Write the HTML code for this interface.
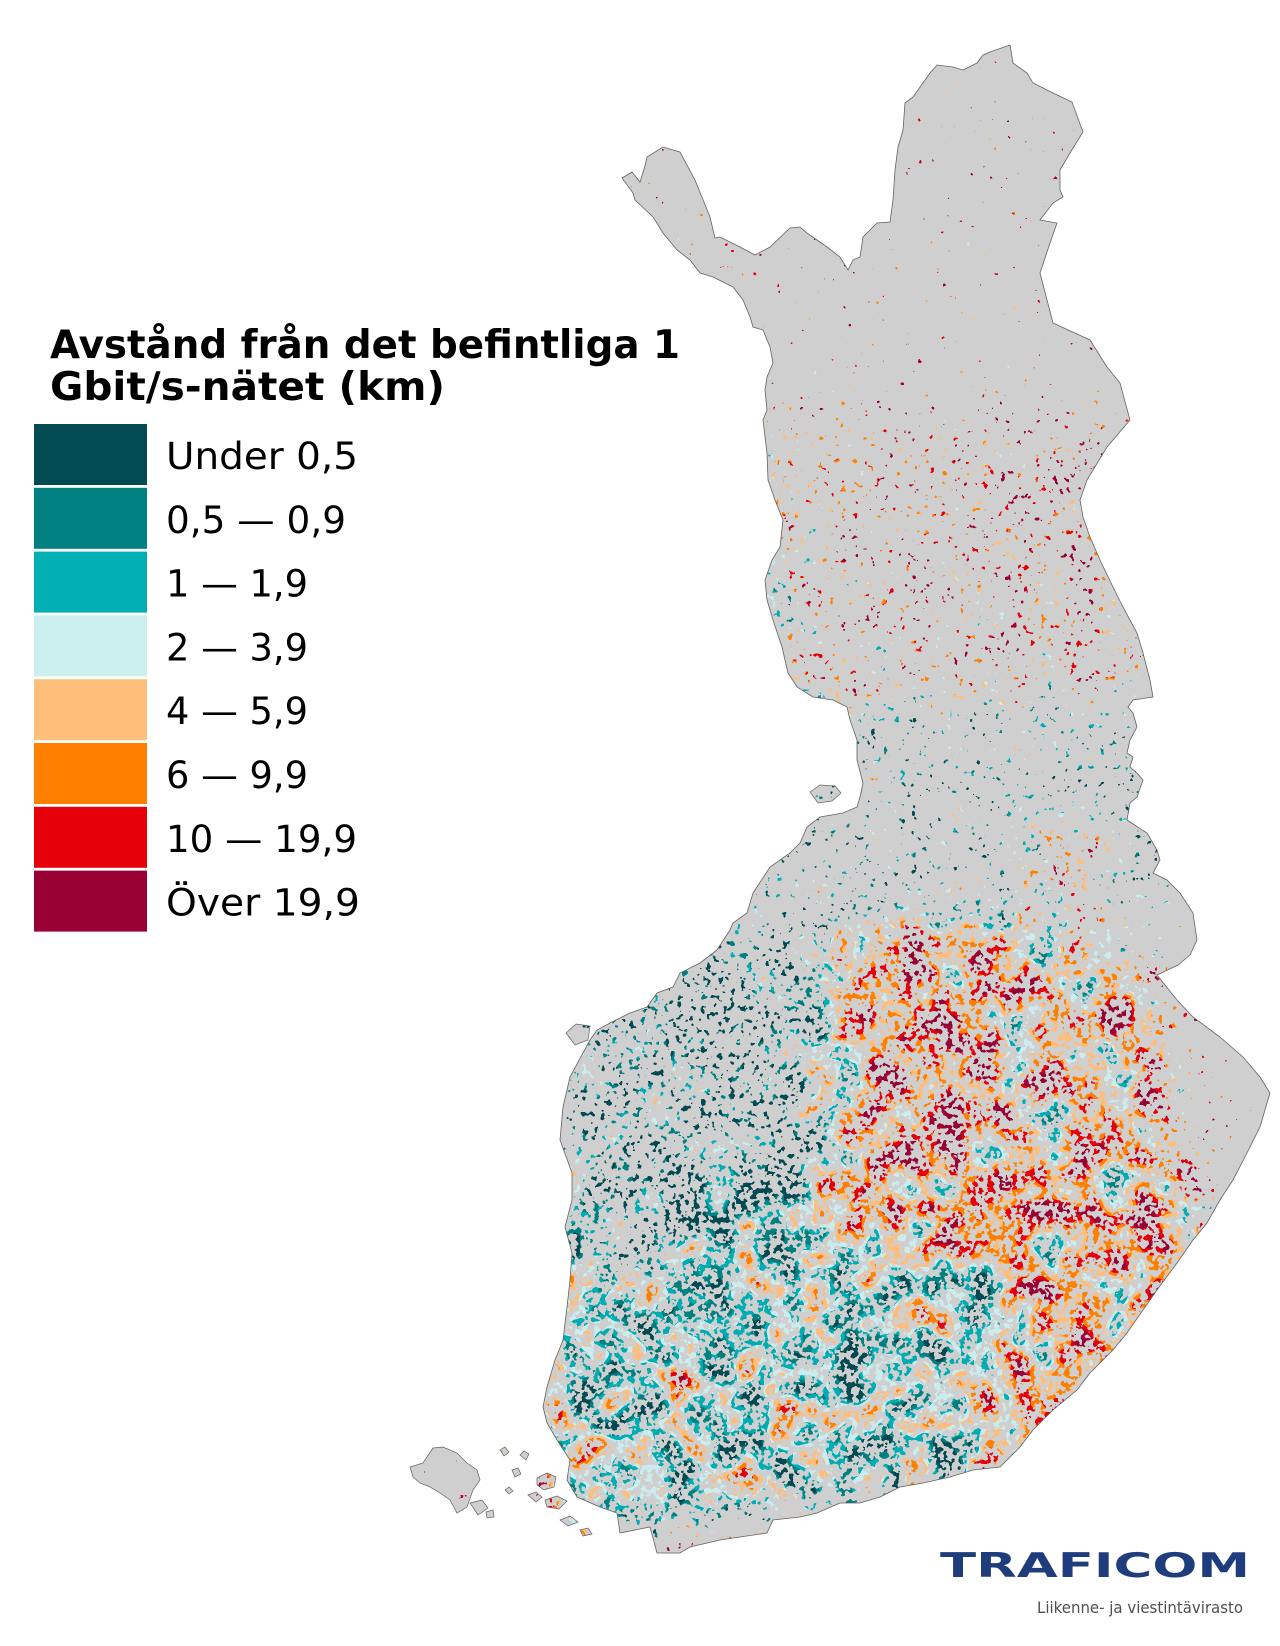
<!DOCTYPE html>
<html>
<head>
<meta charset="utf-8">
<style>
  html,body{margin:0;padding:0;background:#ffffff;}
  svg{display:block;}
  .t{font-family:"DejaVu Sans","Liberation Sans",sans-serif;}
</style>
</head>
<body>
<svg width="1280" height="1646" viewBox="0 0 1280 1646" xmlns="http://www.w3.org/2000/svg">
<defs>
  <path id="fin" d="M622,178 L632,172 L640,182 L645,166 L647,157 L663,147 L680,152 L695,180 L710,217 L715,238 L720,237 L740,247 L755,255 L770,247 L790,228 L800,227 L807,233 L827,247 L840,257 L848,270 L853,260 L860,257 L863,237 L877,223 L890,222 L893,200 L895,170 L898,147 L903,130 L905,103 L913,97 L930,73 L937,65 L953,67 L963,70 L977,63 L983,55 L990,52 L1010,45 L1013,63 L1027,73 L1033,83 L1053,93 L1072,102 L1083,132 L1070,153 L1060,170 L1060,190 L1063,197 L1053,203 L1040,220 L1057,223 L1050,243 L1040,273 L1053,323 L1090,340 L1107,367 L1120,383 L1130,420 L1107,447 L1087,480 L1080,500 L1083,517 L1090,537 L1100,560 L1113,587 L1123,607 L1137,633 L1143,653 L1150,680 L1153,697 L1133,700 L1128,707 L1133,713 L1137,727 L1130,740 L1127,753 L1133,757 L1130,767 L1137,773 L1143,780 L1137,797 L1130,803 L1127,820 L1147,833 L1157,850 L1160,860 L1153,873 L1167,880 L1180,893 L1193,913 L1197,940 L1190,955 L1178,965 L1157,975 L1177,1000 L1193,1017 L1220,1037 L1243,1057 L1260,1077 L1270,1093 L1260,1127 L1247,1153 L1233,1180 L1220,1200 L1207,1223 L1193,1240 L1177,1263 L1157,1290 L1143,1310 L1127,1333 L1113,1350 L1090,1373 L1077,1390 L1053,1410 L1033,1430 L1020,1447 L1000,1467 L973,1470 L950,1477 L923,1483 L900,1487 L880,1497 L860,1503 L840,1503 L817,1513 L800,1517 L773,1520 L767,1533 L740,1537 L720,1540 L690,1547 L680,1553 L657,1553 L650,1527 L620,1533 L617,1513 L600,1507 L577,1497 L567,1480 L570,1460 L557,1440 L547,1423 L543,1407 L547,1387 L555,1360 L563,1340 L567,1307 L570,1280 L572,1253 L565,1227 L572,1200 L572,1173 L560,1140 L563,1107 L570,1077 L590,1040 L597,1030 L610,1023 L630,1013 L647,1007 L657,993 L673,987 L680,973 L700,963 L717,950 L730,930 L733,923 L747,913 L753,893 L770,867 L790,853 L800,843 L807,827 L820,817 L843,813 L857,807 L860,797 L863,783 L857,760 L857,740 L850,720 L847,707 L833,700 L813,697 L797,687 L788,673 L782,647 L773,620 L767,600 L765,580 L772,560 L780,547 L783,520 L775,500 L768,480 L767,453 L763,420 L767,410 L765,390 L767,377 L773,363 L770,347 L763,330 L753,327 L750,317 L743,300 L733,287 L713,277 L700,273 L690,260 L677,250 L663,233 L653,217 L635,200 L633,193 Z"/>
  <path id="isl" d="M410,1467 L423,1463 L433,1448 L443,1447 L457,1453 L467,1463 L477,1470 L480,1480 L473,1490 L467,1507 L457,1513 L450,1500 L440,1493 L430,1487 L420,1483 L413,1477 Z
    M470,1503 L482,1500 L488,1508 L478,1515 Z
    M486,1512 L493,1510 L494,1517 L487,1518 Z
    M500,1450 l5,-3 l4,5 l-5,4 Z
    M512,1470 l6,-2 l3,6 l-6,3 Z
    M520,1455 l4,-4 l5,3 l-3,6 Z
    M537,1478 l10,-5 l9,4 l-2,10 l-10,3 l-7,-5 Z
    M528,1495 l8,-3 l6,5 l-6,5 Z
    M545,1500 l12,-4 l10,5 l-8,8 l-12,-2 Z
    M505,1490 l4,-3 l4,4 l-4,3 Z
    M560,1520 l10,-4 l8,6 l-10,4 Z
    M580,1530 l8,-2 l4,6 l-9,2 Z
    M810,792 L820,785 L835,786 L841,793 L832,801 L818,803 Z
    M566,1033 L576,1024 L590,1026 L588,1040 L575,1045 Z"/>
  <clipPath id="clip">
    <use href="#fin"/>
    <use href="#isl"/>
  </clipPath>

  <filter id="covF" filterUnits="userSpaceOnUse" x="370" y="30" width="910" height="1550" color-interpolation-filters="sRGB">
    <feGaussianBlur in="SourceGraphic" stdDeviation="20" result="D"/>
    <feTurbulence type="fractalNoise" baseFrequency="0.17" numOctaves="2" seed="11" result="T"/>
    <feColorMatrix in="T" type="matrix" values="0 0 0 1.6 -0.348  0 0 0 1.6 -0.348  0 0 0 1.6 -0.348  0 0 0 0 1" result="N"/>
    <feComposite in="D" in2="N" operator="arithmetic" k1="0" k2="1" k3="1" k4="-0.5" result="V"/>
    <feComponentTransfer in="V">
      <feFuncR type="discrete" tableValues="0 1"/>
      <feFuncG type="discrete" tableValues="0 1"/>
      <feFuncB type="discrete" tableValues="0 1"/>
      <feFuncA type="discrete" tableValues="1 1"/>
    </feComponentTransfer>
  </filter>

  <filter id="colF" filterUnits="userSpaceOnUse" x="370" y="30" width="910" height="1550" color-interpolation-filters="sRGB">
    <feGaussianBlur in="SourceGraphic" stdDeviation="25" result="D"/>
    <feTurbulence type="fractalNoise" baseFrequency="0.03" numOctaves="2" seed="5" result="T"/>
    <feColorMatrix in="T" type="matrix" values="0 0 0 1.5 -0.295  0 0 0 1.5 -0.295  0 0 0 1.5 -0.295  0 0 0 0 1" result="N"/>
    <feComposite in="D" in2="N" operator="arithmetic" k1="0" k2="1" k3="1" k4="-0.5" result="V"/>
    <feComponentTransfer in="V">
      <feFuncR type="discrete" tableValues="0.008 0 0 0.8 1 1 0.902 0.6"/>
      <feFuncG type="discrete" tableValues="0.294 0.502 0.682 0.933 0.745 0.502 0 0"/>
      <feFuncB type="discrete" tableValues="0.322 0.502 0.702 0.941 0.478 0 0.039 0.2"/>
      <feFuncA type="discrete" tableValues="1 1"/>
    </feComponentTransfer>
  </filter>

  <mask id="cov" maskUnits="userSpaceOnUse" x="0" y="0" width="1280" height="1646">
    <g filter="url(#covF)">
      <rect x="0" y="0" width="1280" height="1646" fill="rgb(22,22,22)"/>
      <!-- mid north -->
      <rect x="720" y="420" width="440" height="280" fill="rgb(56,56,56)"/>
      <rect x="960" y="470" width="150" height="210" fill="rgb(64,64,64)"/>
      <rect x="725" y="430" width="75" height="270" fill="rgb(68,68,68)"/>
      <!-- 700-920 -->
      <rect x="720" y="700" width="480" height="220" fill="rgb(52,52,52)"/>
      <ellipse cx="835" cy="720" rx="45" ry="40" fill="rgb(77,77,77)"/>
      <ellipse cx="1065" cy="862" rx="45" ry="40" fill="rgb(77,77,77)"/>
      <!-- west -->
      <polygon points="560,1000 720,930 830,940 830,1180 560,1200" fill="rgb(86,86,86)"/>
      <!-- central-east dense -->
      <polygon points="830,920 1000,910 1160,960 1180,1100 1140,1200 850,1200 800,1080" fill="rgb(121,121,121)"/>
      <!-- south -->
      <polygon points="540,1190 1200,1150 1210,1300 1000,1480 540,1540" fill="rgb(132,132,132)"/>
      <ellipse cx="630" cy="1240" rx="50" ry="45" fill="rgb(80,80,80)"/>
      <!-- islands -->
      <ellipse cx="540" cy="1485" rx="30" ry="20" fill="rgb(128,128,128)"/>
    </g>
  </mask>
</defs>

<!-- base gray land -->
<use href="#fin" fill="#cfcfcf"/>
<use href="#isl" fill="#cfcfcf"/>

<!-- colored speckles -->
<g clip-path="url(#clip)">
  <g mask="url(#cov)">
    <g filter="url(#colF)">
      <rect x="0" y="0" width="1280" height="1646" fill="rgb(220,220,220)"/>
      <rect x="720" y="420" width="80" height="280" fill="rgb(125,125,125)"/>
      <rect x="800" y="420" width="160" height="280" fill="rgb(198,198,198)"/>
      <rect x="960" y="460" width="190" height="240" fill="rgb(210,210,210)"/>
      <rect x="720" y="700" width="480" height="230" fill="rgb(56,56,56)"/>
      <ellipse cx="1065" cy="865" rx="50" ry="45" fill="rgb(210,210,210)"/>
      <polygon points="540,930 830,930 830,1250 540,1250" fill="rgb(43,43,43)"/>
      <polygon points="840,920 1000,920 1000,1200 840,1200" fill="rgb(204,204,204)"/>
      <polygon points="1000,940 1170,940 1180,1180 1000,1180" fill="rgb(170,170,170)"/>
      <polygon points="540,1250 1000,1250 1000,1540 540,1540" fill="rgb(100,100,100)"/>
      <polygon points="1000,1150 1220,1150 1220,1390 1000,1390" fill="rgb(180,180,180)"/>
      <ellipse cx="920" cy="1220" rx="45" ry="40" fill="rgb(160,160,160)"/>
      <ellipse cx="545" cy="1485" rx="15" ry="12" fill="rgb(220,220,220)"/>
    </g>
  </g>
</g>

<!-- outlines -->
<use href="#fin" fill="none" stroke="#626262" stroke-width="0.8"/>
<use href="#isl" fill="none" stroke="#626262" stroke-width="0.7"/>

<!-- legend title -->
<text class="t" x="50" y="358" font-size="39" font-weight="bold" fill="#000" textLength="630" lengthAdjust="spacingAndGlyphs">Avstånd från det befintliga 1</text>
<text class="t" x="50" y="400" font-size="39" font-weight="bold" fill="#000" textLength="395" lengthAdjust="spacingAndGlyphs">Gbit/s-nätet (km)</text>

<!-- legend boxes -->
<rect x="34" y="424" width="113" height="61" fill="#024b52"/>
<rect x="34" y="487.8" width="113" height="61" fill="#008080"/>
<rect x="34" y="551.6" width="113" height="61" fill="#00aeb3"/>
<rect x="34" y="615.4" width="113" height="61" fill="#ccefef"/>
<rect x="34" y="679.2" width="113" height="61" fill="#ffbf7a"/>
<rect x="34" y="743" width="113" height="61" fill="#ff8000"/>
<rect x="34" y="806.8" width="113" height="61" fill="#e6000a"/>
<rect x="34" y="870.6" width="113" height="61" fill="#990033"/>

<g class="t" font-size="37" fill="#000">
  <text x="166" y="469" textLength="192" lengthAdjust="spacingAndGlyphs">Under 0,5</text>
  <text x="166" y="532.8" textLength="180" lengthAdjust="spacingAndGlyphs">0,5 — 0,9</text>
  <text x="166" y="596.6" textLength="142" lengthAdjust="spacingAndGlyphs">1 — 1,9</text>
  <text x="166" y="660.4" textLength="142" lengthAdjust="spacingAndGlyphs">2 — 3,9</text>
  <text x="166" y="724.2" textLength="142" lengthAdjust="spacingAndGlyphs">4 — 5,9</text>
  <text x="166" y="788" textLength="142" lengthAdjust="spacingAndGlyphs">6 — 9,9</text>
  <text x="166" y="851.8" textLength="191" lengthAdjust="spacingAndGlyphs">10 — 19,9</text>
  <text x="166" y="915.6" textLength="194" lengthAdjust="spacingAndGlyphs">Över 19,9</text>
</g>

<!-- logo -->
<text class="t" x="940" y="1577" font-size="34" font-weight="bold" fill="#1f3c7d" textLength="310" lengthAdjust="spacingAndGlyphs">TRAFICOM</text>
<text class="t" x="1037" y="1613" font-size="16" fill="#505050" textLength="206" lengthAdjust="spacingAndGlyphs">Liikenne- ja viestintävirasto</text>
</svg>
</body>
</html>
